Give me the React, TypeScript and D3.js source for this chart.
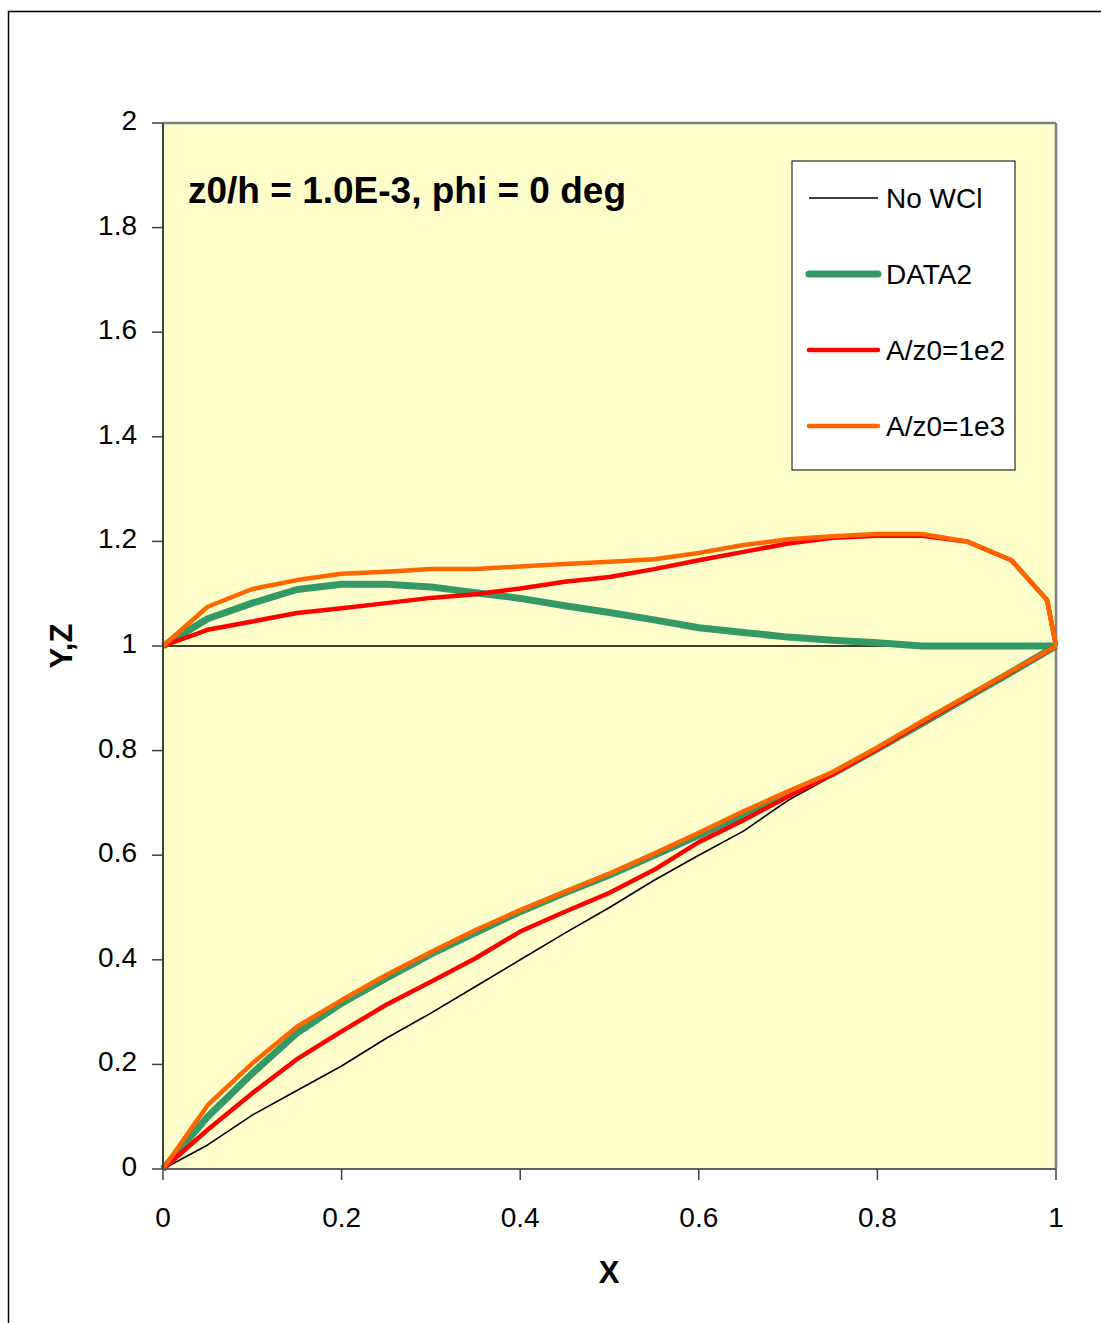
import React from "react";
import * as d3 from "d3";

// chart box in page pixels
const W = 1101;
const H = 1323;
const plot = { left: 163, right: 1056, top: 123, bottom: 1169 };

const title = "z0/h = 1.0E-3, phi = 0 deg";

// shared x positions along the profile
const xValues = [0, 0.05, 0.1, 0.15, 0.2, 0.25, 0.3, 0.35, 0.4, 0.45, 0.5, 0.55, 0.6, 0.65, 0.7, 0.75, 0.8, 0.85, 0.9, 0.95, 0.99, 1];

// No WCI
const noWciUpper = [1, 1, 1, 1, 1, 1, 1, 1, 1, 1, 1, 1, 1, 1, 1, 1, 1, 1, 1, 1, 1, 1];
const noWciLower = [0, 0.046, 0.103, 0.15, 0.197, 0.25, 0.298, 0.349, 0.4, 0.451, 0.5, 0.552, 0.6, 0.646, 0.705, 0.752, 0.8, 0.852, 0.9, 0.95, 0.99, 1];

// DATA2
const data2Upper = [1, 1.052, 1.082, 1.108, 1.118, 1.118, 1.113, 1.102, 1.091, 1.077, 1.064, 1.05, 1.035, 1.026, 1.017, 1.011, 1.006, 1.0, 1.0, 1.0, 1.0, 1.0];
const data2Lower = [0, 0.1, 0.183, 0.26, 0.317, 0.365, 0.411, 0.452, 0.492, 0.528, 0.562, 0.6, 0.638, 0.677, 0.717, 0.756, 0.803, 0.852, 0.901, 0.95, 0.99, 1];

// A/z0=1e2
const a1e2Upper = [1, 1.031, 1.047, 1.063, 1.072, 1.082, 1.092, 1.099, 1.11, 1.123, 1.132, 1.147, 1.164, 1.18, 1.196, 1.207, 1.211, 1.211, 1.2, 1.164, 1.088, 1];
const a1e2Lower = [0, 0.075, 0.145, 0.21, 0.263, 0.314, 0.358, 0.403, 0.454, 0.492, 0.528, 0.572, 0.625, 0.667, 0.712, 0.755, 0.803, 0.853, 0.902, 0.951, 0.99, 1];

// A/z0=1e3
const a1e3Upper = [1, 1.075, 1.109, 1.126, 1.138, 1.142, 1.147, 1.147, 1.152, 1.157, 1.161, 1.166, 1.178, 1.193, 1.204, 1.21, 1.214, 1.214, 1.2, 1.164, 1.088, 1];
const a1e3Lower = [0, 0.122, 0.202, 0.272, 0.323, 0.371, 0.415, 0.457, 0.495, 0.53, 0.565, 0.603, 0.643, 0.684, 0.722, 0.759, 0.806, 0.856, 0.904, 0.952, 0.99, 1];

const seriesNames = ["No WCl", "DATA2", "A/z0=1e2", "A/z0=1e3"];
const seriesColors = ["#000000", "#339966", "#ff0000", "#ff6600"];
const seriesWidths = [1.6, 7, 4.5, 4.5];
const seriesUpper = [noWciUpper, data2Upper, a1e2Upper, a1e3Upper];
const seriesLower = [noWciLower, data2Lower, a1e2Lower, a1e3Lower];

const xTicks = [0, 0.2, 0.4, 0.6, 0.8, 1];
const yTicks = [0, 0.2, 0.4, 0.6, 0.8, 1, 1.2, 1.4, 1.6, 1.8, 2];

const font = "'Liberation Sans', Arial, sans-serif";

export default function App() {
  const xScale = d3.scaleLinear().domain([0, 1]).range([plot.left, plot.right]);
  const yScale = d3.scaleLinear().domain([0, 2]).range([plot.bottom, plot.top]);

  const line = d3.line<number>()
    .x((_, i) => xScale(xValues[i]))
    .y((d) => yScale(d));

  const legendX = 792;
  const legendY = 161;
  const legendRowY = (i: number) => legendY + 37 + i * 76;

  return (
    <div style={{ position: "absolute", left: 0, top: 0 }}>
      <svg width={W} height={H} style={{ display: "block", fontFamily: font }}>
        <rect x={0} y={0} width={W} height={H} fill="#ffffff" />
        {/* outer chart frame, cut off at the right and bottom */}
        <rect x={8.5} y={11.5} width={W + 20} height={H + 20} fill="none" stroke="#000" strokeWidth={1.5} />

        {/* plot area */}
        <rect x={plot.left} y={plot.top} width={plot.right - plot.left} height={plot.bottom - plot.top} fill="#ffffcc" />
        <line x1={plot.left} x2={plot.right} y1={plot.top} y2={plot.top} stroke="#808080" strokeWidth={2.5} />
        <line x1={plot.right} x2={plot.right} y1={plot.top} y2={plot.bottom} stroke="#808080" strokeWidth={2.5} />

        {/* series */}
        {seriesNames.map((name, s) => (
          <g key={name} fill="none" stroke={seriesColors[s]} strokeWidth={seriesWidths[s]} strokeLinejoin="round">
            <path d={line(seriesUpper[s]) || ""} />
            <path d={line(seriesLower[s]) || ""} />
          </g>
        ))}

        {/* axes */}
        <line x1={plot.left} x2={plot.left} y1={plot.top} y2={plot.bottom} stroke="#404040" strokeWidth={2} />
        <line x1={plot.left} x2={plot.right} y1={plot.bottom} y2={plot.bottom} stroke="#606060" strokeWidth={2} />
        {yTicks.map((t) => (
          <g key={"y" + t}>
            <line x1={plot.left - 11} x2={plot.left} y1={yScale(t)} y2={yScale(t)} stroke="#404040" strokeWidth={1.5} />
            <text x={137} y={yScale(t) + 7} textAnchor="end" fontSize={28} fill="#000">{t}</text>
          </g>
        ))}
        {xTicks.map((t) => (
          <g key={"x" + t}>
            <line x1={xScale(t)} x2={xScale(t)} y1={plot.bottom} y2={plot.bottom + 11} stroke="#404040" strokeWidth={1.5} />
            <text x={xScale(t)} y={1227} textAnchor="middle" fontSize={28} fill="#000">{t}</text>
          </g>
        ))}
        <text x={609} y={1283} textAnchor="middle" fontSize={31} fontWeight="bold">X</text>
        <text transform="translate(72,646) rotate(-90)" textAnchor="middle" fontSize={31} fontWeight="bold">Y,Z</text>

        {/* title inside the plot */}
        <text x={188} y={203} fontSize={37} fontWeight="bold">{title}</text>

        {/* legend */}
        <rect x={legendX} y={legendY} width={223} height={309} fill="#ffffff" stroke="#000" strokeWidth={1} />
        {seriesNames.map((name, s) => (
          <g key={"lg" + name}>
            <line x1={legendX + 17} x2={legendX + 86} y1={legendRowY(s)} y2={legendRowY(s)}
              stroke={seriesColors[s]} strokeWidth={seriesWidths[s]} strokeLinecap={s === 0 ? "butt" : "round"} />
            <text x={legendX + 94} y={legendRowY(s) + 10} fontSize={28}>{name}</text>
          </g>
        ))}
      </svg>
    </div>
  );
}
